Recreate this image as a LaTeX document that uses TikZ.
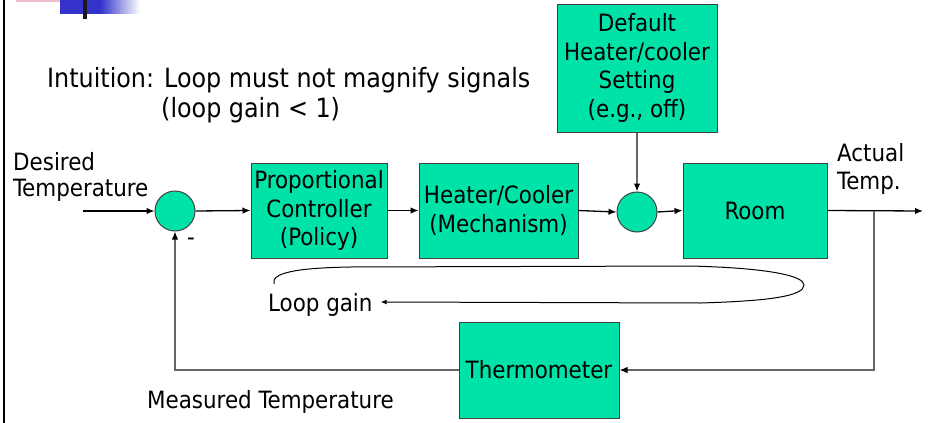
\documentclass[tikz,border=0pt]{standalone}
\usepackage{fontspec}
\setmainfont{DejaVu Sans Condensed}
\usetikzlibrary{arrows.meta}
\definecolor{boxgreen}{RGB}{0,227,168}
\definecolor{decoblue}{RGB}{51,51,204}
\definecolor{decopink}{RGB}{240,190,200}
\begin{document}
\begin{tikzpicture}[x=1pt,y=-1pt,
  blk/.style={draw=black!75,line width=1pt,fill=boxgreen,align=center,inner sep=0pt,
    font=\fontsize{23.8}{28.5}\selectfont},
  sumc/.style={circle,draw=black!75,line width=1pt,fill=boxgreen,minimum size=40pt,inner sep=0pt},
  lbl/.style={font=\fontsize{23.8}{28.5}\selectfont,inner sep=0pt,align=left},
  big/.style={font=\fontsize{26.5}{30}\selectfont,inner sep=0pt,align=left},
  sig/.style={line width=1.3pt,-{Latex[length=8pt,width=6.5pt]}},
  fb/.style={line width=1.3pt,draw=black!60,-{Latex[length=8pt,width=6.5pt,fill=black,color=black]}},
  loopln/.style={line width=1pt,-{Latex[length=6pt,width=5pt]}}]
\useasboundingbox (0,0) rectangle (932,423);
% slide decoration
\fill[black] (3,0) rectangle (5.3,423);
\fill[decopink] (16,0) rectangle (75,1.5);
\fill[decoblue] (60,0) rectangle (100,14);
\shade[left color=decoblue,right color=white] (100,0) rectangle (140,13);
\fill[black!90] (83,0) rectangle (87,19);
% texts
\node[big,anchor=west] (intu) at (47,80) {Intuition: Loop must not magnify signals};
\node[big,anchor=west] (intu2) at (161,110) {(loop gain < 1)};
\node[lbl,anchor=west] (des) at (13,162) {Desired};
\node[lbl,anchor=west] (dest) at (13,190) {Temperature};
\node[lbl,anchor=west] (act) at (837,153) {Actual};
\node[lbl,anchor=west] (actt) at (837,183) {Temp.};
\node[lbl,anchor=west] (meas) at (147,402) {Measured Temperature};
\node[lbl] (minus) at (191,242) {-};
% blocks
\node[sumc] (s1) at (175,211) {};
\node[blk,minimum width=136pt,minimum height=95pt] (prop) at (319,210.5) {Proportional\\Controller\\(Policy)};
\node[blk,minimum width=159pt,minimum height=95pt] (heat) at (498.5,210.5) {Heater/Cooler\\(Mechanism)};
\node[sumc] (s2) at (637,212) {};
\node[blk,minimum width=160pt,minimum height=128pt] (def) at (637,68) {Default\\Heater/cooler\\Setting\\(e.g., off)};
\node[blk,minimum width=144pt,minimum height=95pt] (room) at (755,210.5) {Room};
\node[blk,minimum width=160pt,minimum height=96pt] (therm) at (539,370) {Thermometer};
\node[lbl,anchor=west] (lg) at (268,305) {Loop gain};
% coordinates
\coordinate (in) at (83,211);
\coordinate (out) at (923,211);
\coordinate (br) at (874,211);
\coordinate (ls) at (274,284);
% connectors
\draw[sig] (in) -- (s1.west);
\draw[sig] (s1.east) -- (prop.west);
\draw[sig] (prop.east) -- (heat.west);
\draw[sig] (heat.east) -- (s2.west);
\draw[sig] (s2.east) -- (room.west);
\draw[sig] (room.east) -- (out);
\draw[fb] (def.south) -- (s2.north);
\draw[fb] (br) |- (therm.east);
\draw[fb] (therm.west) -| (s1.south);
% loop gain curve
\draw[loopln] (ls) .. controls (271,273) and (295,268) .. (350,267)
  -- (690,266) .. controls (770,268) and (804,276) .. (804,285)
  .. controls (804,296) and (770,301) .. (700,303)
  -- ([xshift=8pt,yshift=3pt]lg.east);
\end{tikzpicture}
\end{document}
